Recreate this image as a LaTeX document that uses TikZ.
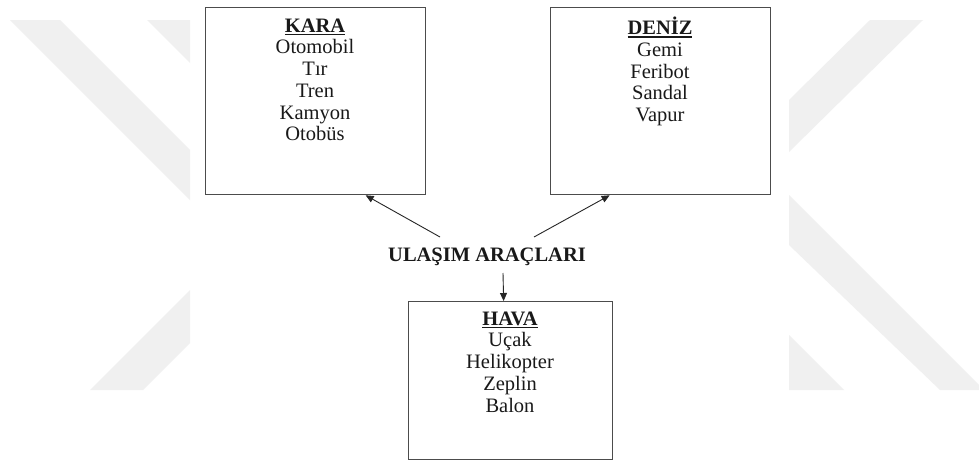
\documentclass[tikz,border=0pt]{standalone}
\usepackage{fontspec}
\setmainfont{Liberation Serif}
\usetikzlibrary{arrows.meta}
\newcommand\myul[1]{\setbox0\hbox{#1}\rlap{\rule[-3pt]{\wd0}{1.5pt}}\box0}
\tikzset{
  wm/.style={fill=gray!12, draw=none},
  boxnode/.style={draw=black!70, line width=1.3pt, rectangle, inner sep=0pt, anchor=north west},
  listnode/.style={align=center, inner sep=0pt, anchor=north, text=black!90,
    font=\fontsize{20.5}{21.7}\selectfont},
  mainnode/.style={inner sep=0pt, anchor=base, text=black!90,
    font=\fontsize{20.5}{21.7}\selectfont\bfseries},
  arr/.style={-{Triangle[length=8pt,width=7pt]}, line width=0.9pt, draw=black!85}
}
\newcommand\st{\rule{0pt}{15pt}}
\begin{document}
\begin{tikzpicture}[x=1pt,y=-1pt]
\useasboundingbox (0,0) rectangle (979,463);
\fill[white] (0,0) rectangle (979,463);
% watermark
\fill[wm] (10,20)--(60,20)--(190,150)--(190,200)--cycle;
\fill[wm] (147,20)--(190,20)--(190,63)--cycle;
\fill[wm] (90,390)--(143,390)--(190,343)--(190,290)--cycle;
\fill[wm] (870,20)--(923,20)--(789,152)--(789,100)--cycle;
\fill[wm] (789,195)--(979,385)--(979,390)--(940,390)--(789,245)--cycle;
\fill[wm] (789,335)--(844,390)--(789,390)--cycle;
% boxes
\node[boxnode, minimum width=220pt, minimum height=187pt] (kara) at (205,7) {};
\node[boxnode, minimum width=220pt, minimum height=187pt] (deniz) at (550,7) {};
\node[boxnode, minimum width=204pt, minimum height=158pt] (hava) at (408,301) {};
% texts
\node[listnode] (karat) at (315,17) {\st\myul{\textbf{KARA}}\\Otomobil\\Tır\\Tren\\Kamyon\\Otobüs};
\node[listnode] (denizt) at (660,17) {\st\myul{\textbf{DENİZ}}\\Gemi\\Feribot\\Sandal\\Vapur};
\node[listnode] (havat) at (510,310) {\st\myul{\textbf{HAVA}}\\Uçak\\Helikopter\\Zeplin\\Balon};
\node[mainnode] (ul) at (487,261) {ULAŞIM ARAÇLARI};
% connectors
\coordinate (a1) at (440,237);
\coordinate (a2) at (534,237);
\coordinate (a3) at (503,273);
\draw[arr] (a1) -- ([xshift=50pt]kara.south);
\draw[arr] (a2) -- ([xshift=-51pt]deniz.south);
\draw[arr] (a3) -- ([xshift=-7pt]hava.north);
\end{tikzpicture}
\end{document}
